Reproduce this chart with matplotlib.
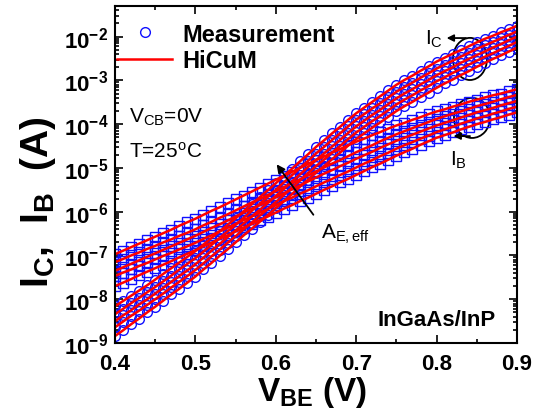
import numpy as np
import matplotlib
matplotlib.use("Agg")
import matplotlib.pyplot as plt
from matplotlib.ticker import MultipleLocator, LogLocator, FixedLocator, NullFormatter
from matplotlib.patches import Ellipse

plt.rcParams['font.family'] = ['Liberation Sans', 'DejaVu Sans']
plt.rcParams['mathtext.fontset'] = 'custom'
plt.rcParams['mathtext.rm'] = 'Liberation Sans'
plt.rcParams['mathtext.it'] = 'Liberation Sans:italic'
plt.rcParams['mathtext.bf'] = 'Liberation Sans:bold'

# base-emitter voltage, 0.40 ... 0.90 V in 10 mV steps
vbe = [round(0.40 + 0.01 * i, 2) for i in range(51)]

# log10 of collector current (circles), five devices
ic1 = [-8.16, -8.04, -7.92, -7.80, -7.68, -7.55, -7.42, -7.29, -7.16, -7.03, -6.90, -6.75, -6.60, -6.45, -6.30, -6.15, -5.99,
       -5.83, -5.67, -5.51, -5.35, -5.18, -5.02, -4.85, -4.69, -4.52, -4.37, -4.21, -4.06, -3.90, -3.75, -3.62, -3.49, -3.36,
       -3.23, -3.10, -2.99, -2.89, -2.78, -2.68, -2.57, -2.48, -2.39, -2.31, -2.22, -2.13, -2.05, -1.98, -1.90, -1.83, -1.75]
ic2 = [-8.34, -8.22, -8.09, -7.97, -7.84, -7.72, -7.59, -7.46, -7.32, -7.19, -7.06, -6.91, -6.76, -6.60, -6.45, -6.30, -6.14,
       -5.98, -5.82, -5.66, -5.50, -5.33, -5.17, -5.00, -4.84, -4.67, -4.52, -4.36, -4.21, -4.05, -3.90, -3.77, -3.64, -3.52,
       -3.39, -3.26, -3.15, -3.05, -2.94, -2.84, -2.73, -2.64, -2.55, -2.46, -2.37, -2.28, -2.20, -2.12, -2.04, -1.96, -1.88]
ic3 = [-8.50, -8.37, -8.25, -8.12, -8.00, -7.87, -7.74, -7.60, -7.47, -7.34, -7.20, -7.05, -6.89, -6.74, -6.58, -6.43, -6.27,
       -6.11, -5.96, -5.80, -5.64, -5.48, -5.31, -5.15, -4.98, -4.82, -4.67, -4.51, -4.36, -4.20, -4.05, -3.92, -3.79, -3.67,
       -3.54, -3.41, -3.30, -3.20, -3.09, -2.99, -2.88, -2.79, -2.70, -2.60, -2.51, -2.42, -2.34, -2.25, -2.17, -2.08, -2.00]
ic4 = [-8.64, -8.51, -8.38, -8.26, -8.13, -8.00, -7.87, -7.73, -7.60, -7.47, -7.33, -7.18, -7.02, -6.87, -6.71, -6.56, -6.40,
       -6.25, -6.09, -5.94, -5.78, -5.62, -5.45, -5.29, -5.12, -4.96, -4.81, -4.65, -4.50, -4.34, -4.19, -4.06, -3.93, -3.81,
       -3.68, -3.55, -3.44, -3.34, -3.23, -3.13, -3.02, -2.93, -2.83, -2.74, -2.64, -2.55, -2.46, -2.38, -2.29, -2.21, -2.12]
ic5 = [-8.84, -8.71, -8.57, -8.44, -8.30, -8.17, -8.03, -7.89, -7.76, -7.62, -7.48, -7.32, -7.17, -7.01, -6.86, -6.70, -6.54,
       -6.39, -6.23, -6.08, -5.92, -5.76, -5.60, -5.43, -5.27, -5.11, -4.96, -4.80, -4.65, -4.49, -4.34, -4.21, -4.08, -3.96,
       -3.83, -3.70, -3.59, -3.49, -3.38, -3.28, -3.17, -3.07, -2.98, -2.88, -2.79, -2.69, -2.60, -2.51, -2.43, -2.34, -2.25]

# log10 of base current (squares), five devices
ib1 = [-6.97, -6.89, -6.81, -6.73, -6.65, -6.57, -6.49, -6.41, -6.32, -6.24, -6.16, -6.07, -5.98, -5.90, -5.81, -5.72, -5.63,
       -5.54, -5.45, -5.36, -5.27, -5.18, -5.09, -5.00, -4.91, -4.82, -4.74, -4.65, -4.57, -4.48, -4.40, -4.33, -4.25, -4.18,
       -4.10, -4.03, -3.97, -3.90, -3.84, -3.77, -3.71, -3.66, -3.60, -3.55, -3.49, -3.44, -3.39, -3.34, -3.30, -3.25, -3.20]
ib2 = [-7.15, -7.08, -7.00, -6.93, -6.85, -6.78, -6.70, -6.63, -6.55, -6.48, -6.40, -6.31, -6.23, -6.14, -6.06, -5.97, -5.88,
       -5.79, -5.71, -5.62, -5.53, -5.44, -5.35, -5.26, -5.17, -5.08, -4.99, -4.90, -4.82, -4.73, -4.64, -4.56, -4.48, -4.39,
       -4.31, -4.23, -4.16, -4.09, -4.02, -3.95, -3.88, -3.82, -3.76, -3.71, -3.65, -3.59, -3.54, -3.49, -3.43, -3.38, -3.33]
ib3 = [-7.35, -7.27, -7.19, -7.11, -7.03, -6.95, -6.87, -6.79, -6.71, -6.63, -6.55, -6.46, -6.37, -6.29, -6.20, -6.11, -6.02,
       -5.93, -5.85, -5.76, -5.67, -5.58, -5.49, -5.40, -5.31, -5.22, -5.13, -5.05, -4.96, -4.88, -4.79, -4.71, -4.63, -4.54,
       -4.46, -4.38, -4.31, -4.24, -4.17, -4.10, -4.03, -3.97, -3.91, -3.85, -3.79, -3.73, -3.68, -3.63, -3.57, -3.52, -3.47]
ib4 = [-7.47, -7.39, -7.32, -7.24, -7.17, -7.09, -7.01, -6.94, -6.86, -6.79, -6.71, -6.62, -6.54, -6.45, -6.37, -6.28, -6.19,
       -6.11, -6.02, -5.94, -5.85, -5.76, -5.68, -5.59, -5.51, -5.42, -5.33, -5.25, -5.16, -5.08, -4.99, -4.90, -4.82, -4.73,
       -4.65, -4.56, -4.48, -4.41, -4.33, -4.26, -4.18, -4.12, -4.06, -3.99, -3.93, -3.87, -3.82, -3.76, -3.71, -3.65, -3.60]
ib5 = [-7.70, -7.62, -7.54, -7.45, -7.37, -7.29, -7.21, -7.13, -7.04, -6.96, -6.88, -6.79, -6.71, -6.62, -6.54, -6.45, -6.36,
       -6.28, -6.19, -6.11, -6.02, -5.93, -5.85, -5.76, -5.68, -5.59, -5.50, -5.42, -5.33, -5.25, -5.16, -5.07, -4.98, -4.90,
       -4.81, -4.72, -4.64, -4.56, -4.47, -4.39, -4.31, -4.25, -4.19, -4.12, -4.06, -4.00, -3.95, -3.89, -3.84, -3.78, -3.73]

ic_curves = [ic1, ic2, ic3, ic4, ic5]
ib_curves = [ib1, ib2, ib3, ib4, ib5]

xticks = [0.4, 0.5, 0.6, 0.7, 0.8, 0.9]
ydecades = [-9, -8, -7, -6, -5, -4, -3, -2]

blue = '#1010ff'
red = '#ff0000'

fig = plt.figure(figsize=(5.33, 4.14), dpi=100)
ax = fig.add_axes([0.2158, 0.169, 0.7542, 0.814])

v = np.array(vbe)
for k, c in enumerate(ib_curves):
    ax.plot(v, 10 ** np.array(c), 's', mfc='none', mec=blue, ms=6.5, mew=1.0)
for k, c in enumerate(ic_curves):
    ax.plot(v, 10 ** np.array(c), 'o', mfc='none', mec=blue, ms=7.0, mew=1.0,
            label='Measurement' if k == 0 else None)
for k, c in enumerate(ib_curves + ic_curves):
    ax.plot(v, 10 ** np.array(c), '-', color=red, lw=1.8,
            label='HiCuM' if k == 0 else None)

ax.set_yscale('log')
ax.set_xlim(0.4, 0.9)
ax.set_ylim(1e-9, 5e-2)

ax.xaxis.set_major_locator(FixedLocator(xticks))
ax.xaxis.set_minor_locator(MultipleLocator(0.05))
ax.set_xticklabels(['%.1f' % t for t in xticks], fontsize=16, fontweight='bold')
ax.yaxis.set_major_locator(FixedLocator([10.0 ** e for e in ydecades]))
ax.yaxis.set_minor_locator(LogLocator(base=10, subs=np.arange(2, 10), numticks=20))
ax.yaxis.set_minor_formatter(NullFormatter())
ax.set_yticklabels([r'$\mathbf{10^{%d}}$' % e for e in ydecades], fontsize=16)

ax.tick_params(which='both', direction='in', top=True, right=True, width=1.2)
ax.tick_params(which='major', length=6)
ax.tick_params(axis='x', which='major', pad=7)
ax.tick_params(axis='y', which='major', pad=5)
ax.tick_params(which='minor', length=3)
for s in ax.spines.values():
    s.set_linewidth(1.5)

ax.set_xlabel(r'V$_\mathbf{BE}$ (V)', fontsize=24, fontweight='bold')
ax.set_ylabel(r'I$_\mathbf{C}$,  I$_\mathbf{B}$  (A)', fontsize=28, fontweight='bold')
ax.xaxis.set_label_coords(0.49, -0.092)
ax.yaxis.set_label_coords(-0.142, 0.42)

ax.legend(loc='upper left', bbox_to_anchor=(-0.035, 1.0), frameon=False,
          prop={'weight': 'bold', 'size': 17}, handlelength=2.3, handletextpad=0.45,
          labelspacing=0.15, borderaxespad=0.3)

ax.text(0.035, 0.674, r'V$_\mathrm{CB}$=0V', transform=ax.transAxes, fontsize=15, va='center')
ax.text(0.035, 0.570, r'T=25$^\mathrm{o}$C', transform=ax.transAxes, fontsize=15, va='center')
ax.text(0.80, 0.071, 'InGaAs/InP', transform=ax.transAxes, fontsize=16, fontweight='bold',
        ha='center', va='center')

# I_C marker ellipse and arrow
ax.add_patch(Ellipse((0.883, 0.843), 0.0846, 0.125, transform=ax.transAxes,
                     fill=False, ec='black', lw=1.3))
ax.annotate('', xy=(0.818, 0.905), xytext=(0.88, 0.905), xycoords='axes fraction',
            arrowprops=dict(arrowstyle='-|>', color='black', lw=1.3, mutation_scale=10))
ax.text(0.772, 0.905, r'I$_\mathrm{C}$', transform=ax.transAxes, fontsize=15, va='center')

# I_B marker ellipse and arrow
ax.add_patch(Ellipse((0.888, 0.668), 0.0896, 0.119, transform=ax.transAxes,
                     fill=False, ec='black', lw=1.3))
ax.annotate('', xy=(0.835, 0.614), xytext=(0.89, 0.614), xycoords='axes fraction',
            arrowprops=dict(arrowstyle='-|>', color='black', lw=1.3, mutation_scale=10))
ax.text(0.833, 0.545, r'I$_\mathrm{B}$', transform=ax.transAxes, fontsize=15, va='center')

# effective emitter area arrow
ax.annotate('', xy=(0.398, 0.537), xytext=(0.4975, 0.374), xycoords='axes fraction',
            arrowprops=dict(arrowstyle='-|>', color='black', lw=1.3, mutation_scale=12))
ax.text(0.513, 0.325, r'A$_\mathrm{E,eff}$', transform=ax.transAxes, fontsize=15, va='center')

fig.savefig('out.png', dpi=100)
